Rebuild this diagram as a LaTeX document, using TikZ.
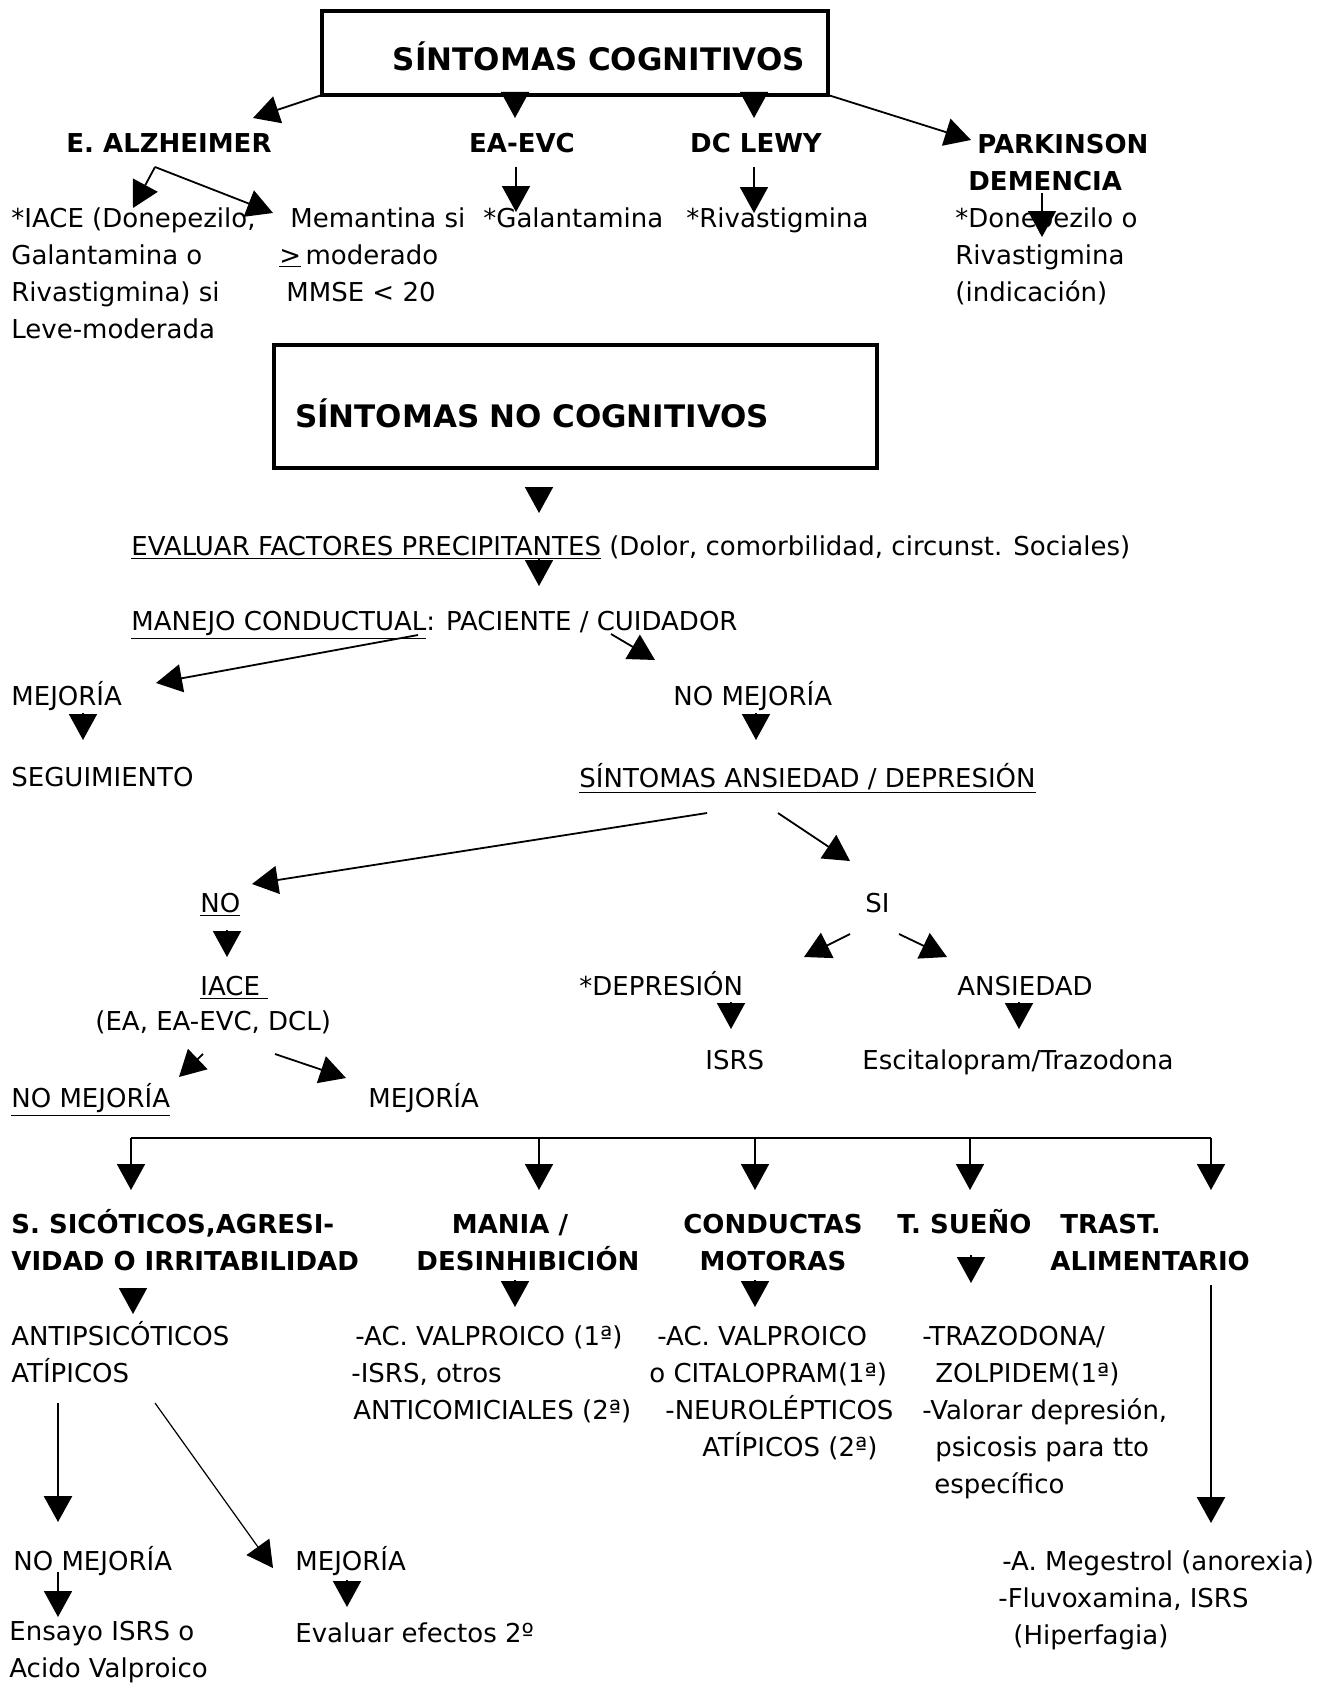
\documentclass[tikz,border=0pt]{standalone}
\usepackage{fontspec}
\setmainfont{DejaVu Sans}
\usetikzlibrary{arrows.meta,calc}

\begin{document}
\begin{tikzpicture}[x=0.5pt,y=-0.5pt,
    arr/.style={-{Triangle[length=13pt,width=14pt]},line width=0.9pt},
    txt/.style={inner sep=0pt,anchor=base west,align=left,font=\fontsize{13pt}{18.5pt}\selectfont},
    hdr/.style={txt,font=\fontsize{13pt}{18.5pt}\selectfont\bfseries},
    titlebox/.style={draw,line width=2pt,inner sep=0pt,outer sep=0pt,text depth=0pt,anchor=north west,font=\fontsize{15.5pt}{18pt}\selectfont\bfseries}]
    \useasboundingbox (0,0) rectangle (1324,1686);

    \node[titlebox,minimum width=253pt,minimum height=42pt,text height=17.5pt] (cog) at (322,11) {\hspace*{24pt}SÍNTOMAS COGNITIVOS};

    \node[hdr,anchor=base] (alz) at (169,153) {E. ALZHEIMER};
    \node[hdr,anchor=base] (eaevc) at (522,153) {EA-EVC};
    \node[hdr,anchor=base] (lewy) at (756,153) {DC LEWY};
    \node[hdr] (park) at (968,191) {\hspace*{4.5pt}PARKINSON\\DEMENCIA};

    \node[txt] (iace) at (11,338) {*IACE (Donepezilo,\\Galantamina o\\Rivastigmina) si\\Leve-moderada};
    \node[txt] (mema) at (279,301) {\hspace*{5.5pt}Memantina si\\\underline{>}\,moderado\\\hspace*{3.5pt}MMSE < 20};
    \node[txt] (galan) at (483,227) {*Galantamina};
    \node[txt] (riva) at (686,227) {*Rivastigmina};
    \node[txt] (done) at (955,301) {*Donepezilo o\\Rivastigmina\\(indicación)};

    \draw[arr] (cog.south west) -- ($(alz.base)+(84,-35)$);
    \draw[arr] ($(cog.south)+(-60,-3)$) -- ($(eaevc.base)+(-7,-35)$);
    \draw[arr] ($(cog.south)+(179,-3)$) -- ($(lewy.base)+(-2,-35)$);
    \draw[arr] (cog.south east) -- ($(park.base west)+(3,-51)$);
    \draw[arr] ($(alz.base)+(-14,14)$) -- ($(iace.base west)+(122,-130)$);
    \draw[arr] ($(alz.base)+(-14,14)$) -- ($(mema.base west)+(-6,-88)$);
    \draw[arr] ($(eaevc.base)+(-6,14)$) -- ($(galan.base west)+(33,-15)$);
    \draw[arr] ($(lewy.base)+(-2,14)$) -- ($(riva.base west)+(68,-14)$);
    \draw[arr] ($(park.base west)+(74,2)$) -- ($(done.base west)+(87,-64)$);

    \node[titlebox,minimum width=301.5pt,minimum height=61.5pt,text height=21pt,inner xsep=10.5pt,text width=280.5pt,align=left] (nocog) at (274,345) {SÍNTOMAS NO COGNITIVOS};

    \node[txt] (evalua) at (131,555) {\underline{EVALUAR FACTORES PRECIPITANTES} (Dolor, comorbilidad, circunst. Sociales)};
    \node[txt] (manejo) at (131,630) {\underline{MANEJO CONDUCTUAL}: PACIENTE / CUIDADOR};
    \node[txt] (mej1) at (11,705) {MEJORÍA};
    \node[txt] (nomej1) at (673,705) {NO MEJORÍA};
    \node[txt] (seg) at (11,786) {SEGUIMIENTO};
    \node[txt] (ansdep) at (579,787) {\underline{SÍNTOMAS ANSIEDAD / DEPRESIÓN}};

    \draw[arr] ($(nocog.south)+(-36.5,19)$) -- ($(evalua.base west)+(408,-42)$);
    \draw[arr] ($(evalua.base west)+(408,4)$) -- ($(manejo.base west)+(408,-44)$);
    \draw[arr] ($(manejo.base west)+(287,5)$) -- ($(mej1.base west)+(145,-22)$);
    \draw[arr] ($(manejo.base west)+(480,4)$) -- ($(nomej1.base west)+(-18,-45)$);
    \draw[arr] ($(mej1.base west)+(72,8)$) -- ($(seg.base west)+(72,-46)$);
    \draw[arr] ($(nomej1.base west)+(83,8)$) -- ($(ansdep.base west)+(177,-47)$);

    \node[txt] (no) at (200,912) {\underline{NO}};
    \node[txt] (si) at (865,912) {SI};
    \node[txt] (iacen) at (200,995) {\underline{IACE\ }};
    \node[txt] (eagrp) at (95,1030) {(EA, EA-EVC, DCL)};
    \node[txt] (depr) at (579,995) {*DEPRESIÓN};
    \node[txt] (ansi) at (957,995) {ANSIEDAD};
    \node[txt] (isrs) at (705,1069) {ISRS};
    \node[txt] (escit) at (862,1069) {Escitalopram/Trazodona};
    \node[txt] (nomej2) at (11,1107) {\underline{NO MEJORÍA}};
    \node[txt] (mej2) at (368,1107) {MEJORÍA};

    \draw[arr] ($(ansdep.base west)+(128,26)$) -- ($(no.base west)+(52,-28)$);
    \draw[arr] ($(ansdep.base west)+(199,26)$) -- ($(si.base west)+(-15,-51)$);
    \draw[arr] ($(no.base west)+(27,18)$) -- ($(iacen.base west)+(27,-38)$);
    \draw[arr] ($(si.base west)+(-15,22)$) -- ($(depr.base west)+(225,-38)$);
    \draw[arr] ($(si.base west)+(34,22)$) -- ($(ansi.base west)+(-10,-38)$);
    \draw[arr] ($(depr.base west)+(152,7)$) -- ($(isrs.base west)+(26,-40)$);
    \draw[arr] ($(ansi.base west)+(62,7)$) -- ($(escit.base west)+(157,-40)$);
    \draw[arr] ($(eagrp.base west)+(108,24)$) -- ($(nomej2.base west)+(168,-30)$);
    \draw[arr] ($(eagrp.base west)+(180,24)$) -- ($(mej2.base west)+(-22,-29)$);

    \node[hdr] (sico) at (11,1270) {S. SICÓTICOS,AGRESI-\\VIDAD O IRRITABILIDAD};
    \node[hdr,anchor=base,align=center] (mania) at (528,1270) {MANIA /\hspace*{18pt}\\DESINHIBICIÓN};
    \node[hdr,anchor=base,align=center] (cond) at (773,1270) {CONDUCTAS\\MOTORAS};
    \node[hdr] (sueno) at (897,1233) {T. SUEÑO};
    \node[hdr] (alim) at (1050,1270) {\hspace*{5pt}TRAST.\\ALIMENTARIO};

    \coordinate (busl) at (131,1138);
    \coordinate (busr) at (1211,1138);
    \draw[line width=0.9pt] (busl) -- (busr);
    \foreach \nd/\dx/\dy in {sico.base west/120/37, mania.base/11/37, cond.base/-18/37, sueno.base west/73/0, alim.base west/161/37}
        \draw[arr] ($(\nd)+(\dx,-95-\dy)$) -- ($(\nd)+(\dx,-43-\dy)$);

    \node[txt] (antip) at (11,1382) {ANTIPSICÓTICOS\\ATÍPICOS};
    \node[txt] (manmed) at (351,1419) {\hspace*{2pt}-AC. VALPROICO (1ª)\\-ISRS, otros\\\hspace*{1pt}ANTICOMICIALES (2ª)};
    \node[txt] (condmed) at (649,1456) {\hspace*{4pt}-AC. VALPROICO\\o CITALOPRAM(1ª)\\\hspace*{8pt}-NEUROLÉPTICOS\\\hspace*{26.5pt}ATÍPICOS (2ª)};
    \node[txt] (suenmed) at (922,1493) {-TRAZODONA/\\\hspace*{6.5pt}ZOLPIDEM(1ª)\\-Valorar depresión,\\\hspace*{6.5pt}psicosis para tto\\\hspace*{6pt}específico};
    \node[txt] (alimmed) at (998,1644) {\hspace*{2pt}-A. Megestrol (anorexia)\\-Fluvoxamina, ISRS\\\hspace*{7.5pt}(Hiperfagia)};
    \node[txt] (nomej3) at (13,1570) {NO MEJORÍA};
    \node[txt] (mej3) at (295,1570) {MEJORÍA};
    \node[txt] (ensayo) at (9,1677) {Ensayo ISRS o\\Acido Valproico};
    \node[txt] (evalef) at (295,1642) {Evaluar efectos 2º};

    \draw[arr] ($(sico.base west)+(122,18)$) -- ($(antip.base west)+(122,-68)$);
    \draw[arr] ($(mania.base)+(-13,10)$) -- ($(manmed.base west)+(164,-112)$);
    \draw[arr] ($(cond.base)+(-18,10)$) -- ($(condmed.base west)+(106,-149)$);
    \draw[arr] ($(sueno.base west)+(74,22)$) -- ($(suenmed.base west)+(49,-210)$);
    \draw[arr,line width=1.4pt] ($(alim.base west)+(161,15)$) -- ($(alimmed.base west)+(213,-121)$);
    \draw[arr,line width=1.4pt] ($(antip.base west)+(47,21)$) -- ($(nomej3.base west)+(45,-48)$);
    \draw[arr,line width=0.6pt] ($(antip.base west)+(144,21)$) -- ($(mej3.base west)+(-22,-2)$);
    \draw[arr] ($(nomej3.base west)+(45,2)$) -- ($(ensayo.base west)+(49,-60)$);
    \draw[arr] ($(mej3.base west)+(52,10)$) -- ($(evalef.base west)+(52,-35)$);
\end{tikzpicture}
\end{document}
